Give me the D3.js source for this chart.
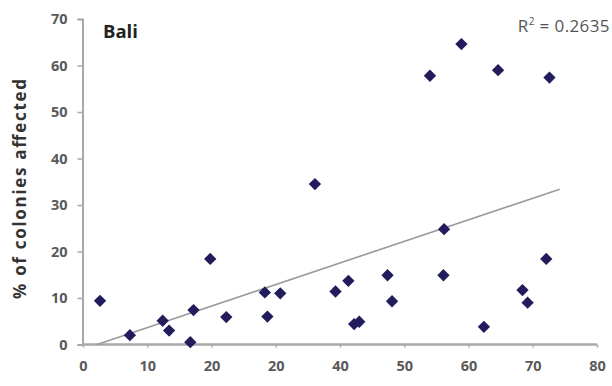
<!DOCTYPE html>
<html>
<head>
<meta charset="utf-8">
<script src="https://cdn.jsdelivr.net/npm/d3@7"></script>
<style>
  body { margin: 0; background: #fff; }
  svg text { font-family: "Open Sans", "DejaVu Sans", sans-serif; }
</style>
</head>
<body>
<svg id="chart" width="612" height="386"></svg>
<script>
// % of colonies vs x
var xValues = [2.65, 7.3, 12.4, 13.4, 16.7, 17.2, 19.8, 22.3, 28.3, 28.7, 30.7, 36.1, 39.3, 41.3,
    42.2, 43.0, 47.4, 48.1, 54.0, 56.2, 56.1, 58.9, 62.4, 64.6, 68.4, 69.2, 72.1, 72.6];
var yValues = [9.4, 2.0, 5.1, 3.0, 0.5, 7.4, 18.4, 5.9, 11.2, 6.0, 11.0, 34.5, 11.4, 13.7,
    4.4, 4.9, 14.9, 9.3, 57.8, 24.8, 14.9, 64.6, 3.8, 59.0, 11.7, 9.0, 18.4, 57.4];
// trend line end points
var trendX = [2.2, 74.2];
var trendY = [0, 33.4];
var xTicks = [0, 10, 20, 30, 40, 50, 60, 70, 80];
var xTickLabels = ["0", "10", "20", "20", "40", "50", "60", "70", "80"];
var yTicks = [0, 10, 20, 30, 40, 50, 60, 70];
var chartTitle = "Bali";
var yTitle = "% of colonies affected";
var rSquared = "0.2635";

var svg = d3.select("#chart");
var x = d3.scaleLinear().domain([0, 80]).range([83, 597]);
var y = d3.scaleLinear().domain([0, 70]).range([344.5, 19]);

// y axis
var yAxis = svg.append("g")
    .attr("transform", "translate(82.5,0)")
    .call(d3.axisLeft(y).tickValues(yTicks).tickSize(5).tickPadding(10));
yAxis.select(".domain").attr("stroke", "#a8a8a8").attr("stroke-width", 2);
yAxis.selectAll(".tick line").attr("stroke", "#a8a8a8").attr("stroke-width", 1.5);
yAxis.selectAll(".tick text")
    .attr("fill", "#5a5a5a").style("font-size", "14.5px").style("font-weight", "bold");

// x axis
var xAxis = svg.append("g")
    .attr("transform", "translate(0,344.5)")
    .call(d3.axisBottom(x).tickValues(xTicks).tickSize(3).tickPadding(13)
        .tickFormat(function (d, i) { return xTickLabels[i]; }));
xAxis.select(".domain").attr("stroke", "#a8a8a8").attr("stroke-width", 2.5)
    .attr("d", "M82,0H597");
xAxis.selectAll(".tick line").attr("stroke", "#a8a8a8").attr("stroke-width", 1.5);
xAxis.selectAll(".tick text")
    .attr("fill", "#5a5a5a").style("font-size", "14.5px").style("font-weight", "bold");

// trend line
svg.append("line")
    .attr("x1", x(trendX[0])).attr("y1", y(trendY[0]))
    .attr("x2", x(trendX[1])).attr("y2", y(trendY[1]))
    .attr("stroke", "#9a9a9a").attr("stroke-width", 1.6);

// points
var points = d3.zip(xValues, yValues);
svg.selectAll(".pt").data(points).enter().append("path")
    .attr("class", "pt")
    .attr("d", d3.symbol(d3.symbolSquare, 76))
    .attr("transform", function (d) { return "translate(" + x(d[0]) + "," + y(d[1]) + ") rotate(45)"; })
    .attr("fill", "#231c5c");

// texts
svg.append("text")
    .attr("x", 103).attr("y", 38)
    .attr("fill", "#222").style("font-size", "18.5px").style("font-weight", "bold")
    .text(chartTitle);

var r2 = svg.append("text")
    .attr("x", 610).attr("y", 32).attr("text-anchor", "end")
    .attr("fill", "#555").style("font-size", "17px").style("letter-spacing", "0.4px");
r2.append("tspan").text("R");
r2.append("tspan").attr("dy", -7).style("font-size", "10px").text("2");
r2.append("tspan").attr("dy", 7).text(" = " + rSquared);

svg.append("text")
    .attr("transform", "translate(26,189) rotate(-90)")
    .attr("text-anchor", "middle")
    .attr("textLength", 220).attr("lengthAdjust", "spacing")
    .attr("fill", "#333").style("font-size", "17px").style("font-weight", "bold")
    .text(yTitle);
</script>
</body>
</html>
